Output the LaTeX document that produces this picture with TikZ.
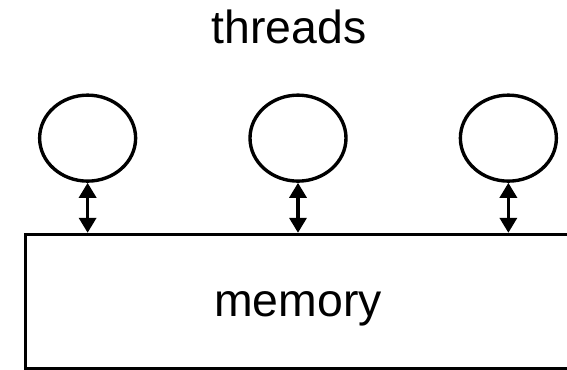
\documentclass[tikz,border=0pt]{standalone}
\usepackage{fontspec}
\setmainfont{Liberation Sans}
\usetikzlibrary{positioning,shapes.geometric,arrows.meta}

\begin{document}
\begin{tikzpicture}[
		font=\fontsize{33}{40}\selectfont,
		line width=2.4pt,
		thread/.style={draw, ellipse, minimum width=2.4cm, minimum height=2.15cm, inner sep=0pt},
		mem/.style={draw, rectangle, minimum width=13.625cm, minimum height=3.3625cm, text height=0.76cm, text depth=0pt},
		access/.style={{Triangle[length=3.75mm,width=4.25mm]}-{Triangle[length=3.75mm,width=4.25mm]}},
	]

		\useasboundingbox (-7.45,-1.68125) rectangle (6.725,7.54375);
		\clip (-7.45,-1.68125) rectangle (6.725,7.54375);

		\node [mem] (memory) at (0,0) {memory};
		\node [thread, above = 1.25cm of memory] (t2) {};
		\node [thread, left = 2.775cm of t2] (t1) {};
		\node [thread, right = 2.775cm of t2] (t3) {};
		\node [above = 1.225cm of t2, inner sep=0pt, outer sep=0pt, xshift=-0.225cm] (threads) {threads};

		% each thread reads and writes the shared memory
		\draw [access] (t1.south) -- (t1.south |- memory.north);
		\draw [access] (t2.south) -- (t2.south |- memory.north);
		\draw [access] (t3.south) -- (t3.south |- memory.north);

\end{tikzpicture}
\end{document}
